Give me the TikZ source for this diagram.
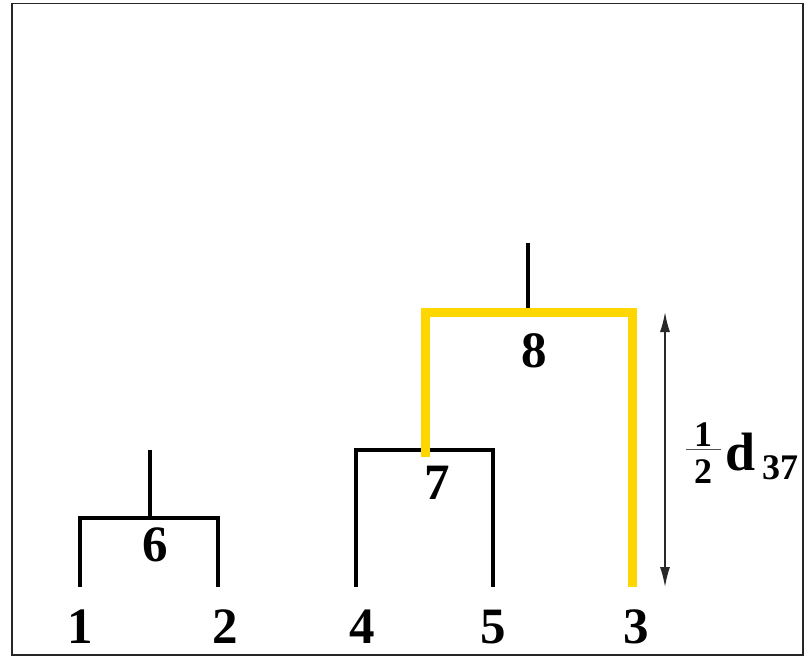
\documentclass[tikz,border=0pt]{standalone}
\usepackage{fontspec}
\setmainfont{Liberation Serif}
\usetikzlibrary{arrows.meta}
\definecolor{gold}{RGB}{255,215,0}
\definecolor{arrowgray}{RGB}{40,40,40}
\tikzset{
  branch/.style={line width=4.5pt, black, line join=miter, line cap=butt},
  hibranch/.style={line width=9pt, gold, line join=miter, line cap=butt},
  lbl/.style={font=\fontsize{51}{60}\selectfont\bfseries, anchor=base, inner sep=0pt},
  small/.style={font=\fontsize{36}{42}\selectfont\bfseries, anchor=base, inner sep=0pt},
}
\begin{document}
\begin{tikzpicture}[x=1pt,y=-1pt]
\useasboundingbox (0,0) rectangle (807,657);
\draw[line width=1.2pt, black!85] (12,3.5) rectangle (803,655);
% coordinates
\coordinate (l1) at (80,587);
\coordinate (l2) at (218,587);
\coordinate (l4) at (356,587);
\coordinate (l5) at (493,587);
\coordinate (l3) at (632,587);
\coordinate (c6) at (150,518);
\coordinate (s6) at (150,450);
\coordinate (c7) at (425,450);
\coordinate (y7) at (425,457);
\coordinate (c8) at (528,312);
\coordinate (s8) at (528,243);
\coordinate (a1) at (665,312);
\coordinate (a2) at (665,587);
% black branches
\draw[branch] (l1) |- (c6) -| (l2);
\draw[branch] (c6) -- (s6);
\draw[branch] (l4) |- (c7) -| (l5);
\draw[branch] (c8) -- (s8);
% highlighted branch
\draw[hibranch] (y7) |- (c8) -| (l3);
% arrow
\draw[line width=1.5pt, arrowgray, {Latex[length=20pt,width=10pt]}-{Latex[length=20pt,width=10pt]}] (a1) -- (a2);
% labels
\node[lbl] (t1) at (80,643) {1};
\node[lbl] (t2) at (225,643) {2};
\node[lbl] (t4) at (362,643) {4};
\node[lbl] (t5) at (493,643) {5};
\node[lbl] (t3) at (636,643) {3};
\node[lbl] (t6) at (155,561) {6};
\node[lbl] (t7) at (437,499) {7};
\node[lbl] (t8) at (534,367) {8};
% fraction label
\node[small] (h1) at (703,446) {1};
\node[small] (h2) at (703,483) {2};
\draw[line width=1.6pt, arrowgray!80] (686,449.5) -- (721,449.5);
\node[font=\fontsize{54}{60}\selectfont\bfseries, anchor=base, inner sep=0pt] (d) at (741,470) {d};
\node[font=\fontsize{36}{42}\selectfont\bfseries, anchor=base, inner sep=0pt] (sub) at (780,479) {37};
\end{tikzpicture}
\end{document}
